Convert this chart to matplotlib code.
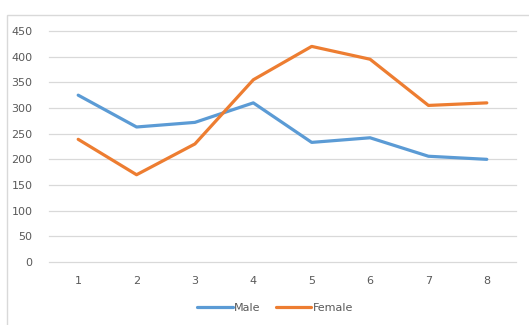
import matplotlib.pyplot as plt
from matplotlib.patches import Rectangle

periods = [1, 2, 3, 4, 5, 6, 7, 8]
male = [325, 263, 272, 310, 233, 242, 206, 200]
female = [239, 170, 230, 355, 420, 395, 305, 310]
yticks = [0, 50, 100, 150, 200, 250, 300, 350, 400, 450]

fig = plt.figure(figsize=(5.29, 3.25), dpi=100)
ax = fig.add_axes([49/529, 1 - 262/325, 467/529, 231/325])

# light frame round the chart area
fig.patches.append(Rectangle((7/529, -0.01), 1.05, 1 - 15/325 + 0.01,
                             transform=fig.transFigure, fill=False,
                             edgecolor='#d9d9d9', linewidth=1))

ax.plot(periods, male, color='#5B9BD5', linewidth=2.3, label='Male',
        solid_capstyle='round', solid_joinstyle='round')
ax.plot(periods, female, color='#ED7D31', linewidth=2.3, label='Female',
        solid_capstyle='round', solid_joinstyle='round')

ax.set_xlim(0.5, 8.5)
ax.set_ylim(0, 450)
ax.set_yticks(yticks)
ax.set_xticks(periods)
ax.grid(axis='y', color='#d9d9d9', linewidth=0.9)
for gl in ax.get_ygridlines():
    gl.set_clip_on(False)
ax.set_axisbelow(True)
for s in ax.spines.values():
    s.set_visible(False)
ax.tick_params(length=0, labelsize=8, labelcolor='#595959')
ax.tick_params(axis='x', pad=10)
ax.tick_params(axis='y', pad=12)

leg = fig.legend(loc='center', bbox_to_anchor=(0.52, 1 - 308/325), ncol=2,
                 frameon=False, fontsize=8, handlelength=3.2,
                 handletextpad=0.1, columnspacing=1.4)
for t in leg.get_texts():
    t.set_color('#595959')

fig.savefig('out.png', dpi=100, facecolor='white')
